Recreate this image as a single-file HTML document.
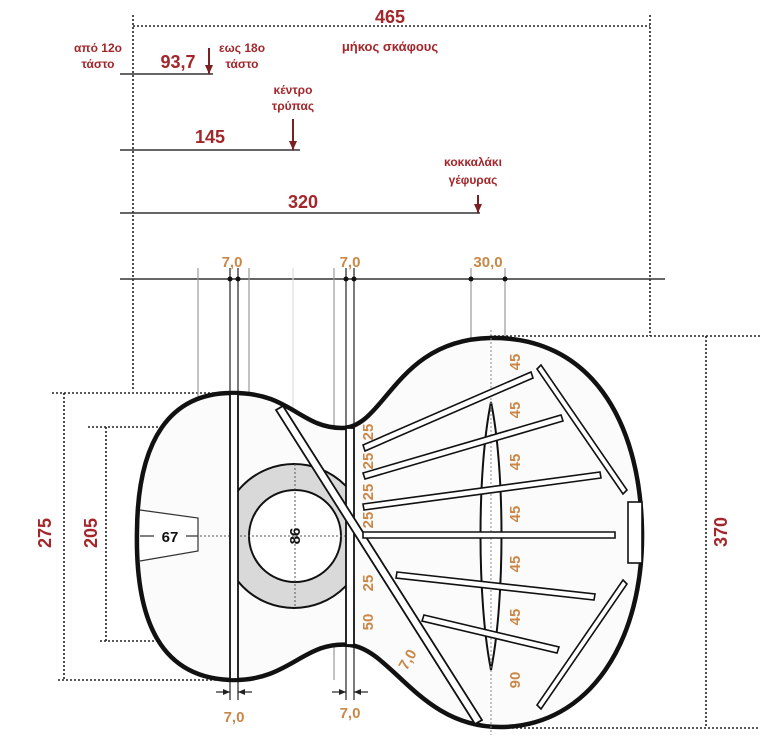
<!DOCTYPE html>
<html><head><meta charset="utf-8"><style>
html,body{margin:0;padding:0;background:#fff;width:760px;height:748px;overflow:hidden}
svg{display:block}
.r{fill:#a3262a;font-family:"Liberation Sans","DejaVu Sans",sans-serif;font-weight:bold}
.o{fill:#c98848;font-family:"Liberation Sans","DejaVu Sans",sans-serif;font-weight:bold;font-size:15px}
</style></head><body>
<svg width="760" height="748" viewBox="0 0 760 748" xmlns="http://www.w3.org/2000/svg">
<defs>
<marker id="ah" markerWidth="9" markerHeight="8" refX="9" refY="4" orient="auto" markerUnits="userSpaceOnUse"><path d="M0,0 L9,4 L0,8 Z" fill="#7a1f22"/></marker>
<marker id="sa" markerWidth="7" markerHeight="6" refX="7" refY="3" orient="auto" markerUnits="userSpaceOnUse"><path d="M0,0 L7,3 L0,6 Z" fill="#222"/></marker>
</defs>
<g stroke="#222" stroke-width="1.6" stroke-dasharray="2,2" fill="none">
<line x1="133" y1="15" x2="133" y2="390"/>
<line x1="133" y1="26" x2="650" y2="26"/>
<line x1="650" y1="15" x2="650" y2="336"/>
<line x1="490" y1="336" x2="760" y2="336"/>
<line x1="500" y1="728" x2="760" y2="728"/>
<line x1="706" y1="336" x2="706" y2="728"/>
<line x1="64" y1="393" x2="64" y2="680"/>
<line x1="52" y1="393" x2="232" y2="393"/>
<line x1="58" y1="680" x2="232" y2="680"/>
<line x1="106" y1="427" x2="106" y2="641"/>
<line x1="88" y1="427" x2="345" y2="427"/>
<line x1="100" y1="641" x2="345" y2="641"/>
</g>
<g stroke="#333" stroke-width="1.5">
<line x1="120" y1="74" x2="213" y2="74"/>
<line x1="120" y1="150" x2="300" y2="150"/>
<line x1="120" y1="213" x2="480" y2="213"/>
<line x1="120" y1="279" x2="665" y2="279"/>
</g>
<g stroke="#7a1f22" stroke-width="2" marker-end="url(#ah)">
<line x1="209" y1="48" x2="209" y2="74"/>
<line x1="293" y1="119" x2="293" y2="150"/>
<line x1="478" y1="195" x2="478" y2="213"/>
</g>
<g stroke="#999" stroke-width="1.2">
<line x1="198" y1="268" x2="198" y2="540"/>
<line x1="249" y1="268" x2="249" y2="680"/>
<line x1="293" y1="268" x2="293" y2="620" stroke="#ddd"/>
<line x1="334" y1="268" x2="334" y2="680"/>
<line x1="471" y1="268" x2="471" y2="400"/>
<line x1="505" y1="268" x2="505" y2="400"/>
</g>
<g stroke="#333" stroke-width="1.3">
<line x1="230" y1="268" x2="230" y2="700"/><line x1="238" y1="268" x2="238" y2="700"/>
<line x1="346" y1="268" x2="346" y2="700"/><line x1="354" y1="268" x2="354" y2="700"/>
</g>
<g stroke="#222" stroke-width="1.2" marker-end="url(#sa)">
<line x1="216" y1="692" x2="230" y2="692"/><line x1="252" y1="692" x2="238" y2="692"/>
<line x1="332" y1="692" x2="346" y2="692"/><line x1="368" y1="692" x2="354" y2="692"/>
</g>
<g fill="#111"><circle cx="230" cy="279" r="2.5"/><circle cx="238" cy="279" r="2.5"/><circle cx="346" cy="279" r="2.5"/><circle cx="354" cy="279" r="2.5"/><circle cx="471" cy="279" r="2.5"/><circle cx="505" cy="279" r="2.5"/></g>
<!-- body -->
<path d="M232,393 C290,392 300,428 342,428 C385,428 395,340 490,338 C590,336 640,420 642,530 C644,640 590,727 500,727 C420,727 392,650 350,645 C305,640 290,680 235,680 C160,680 135,620 137,530 C138,440 170,393 232,393 Z" fill="#fbfbfb" stroke="#111" stroke-width="4.5"/>
<clipPath id="hc"><rect x="238" y="440" width="108" height="200"/></clipPath>
<circle cx="294" cy="536" r="72" fill="#d9d9d9" stroke="#111" stroke-width="2" clip-path="url(#hc)"/>
<circle cx="295" cy="536" r="46" fill="#fff" stroke="#111" stroke-width="2"/>
<g stroke="#555" stroke-width="1" stroke-dasharray="2,2"><line x1="200" y1="536" x2="346" y2="536"/><line x1="295" y1="464" x2="295" y2="608"/></g>
<text transform="translate(300,536) rotate(-90)" text-anchor="middle" font-family="Liberation Sans,sans-serif" font-weight="bold" font-size="15" fill="#111">86</text>
<!-- patch -->
<path d="M140,510 L198,518 L198,551 L140,561" fill="#fff" stroke="#333" stroke-width="1.2"/>
<line x1="140" y1="536" x2="198" y2="536" stroke="#333" stroke-width="1.2"/>
<rect x="154" y="527" width="32" height="18" fill="#fff"/>
<text x="170" y="542" text-anchor="middle" font-family="Liberation Sans,sans-serif" font-weight="bold" font-size="15" fill="#111">67</text>
<!-- vertical braces -->
<rect x="230" y="394" width="8" height="285" fill="#fff" stroke="#111" stroke-width="1.8"/>
<rect x="346" y="428" width="8" height="217" fill="#fff" stroke="#111" stroke-width="1.8"/>
<!-- diagonal -->
<polygon points="276,410 283,406 482,720 475,724" fill="#fff" stroke="#111" stroke-width="1.8"/>
<!-- tone spindle -->
<path d="M491,402 C505,470 505,600 491,670 C477,600 477,470 491,402 Z" fill="#fff" stroke="#111" stroke-width="2"/>
<line x1="491" y1="330" x2="491" y2="735" stroke="#888" stroke-width="1" stroke-dasharray="2,2"/>
<!-- fan braces -->
<g fill="#fff" stroke="#111" stroke-width="1.6">
<polygon points="363,445 531,372 533,378 365,451"/>
<polygon points="363,473 561,415 563,421 365,479"/>
<polygon points="363,504 600,472 601,478 364,510"/>
<polygon points="363,532 615,532 615,538 363,538"/>
<polygon points="397,572 595,594 594,600 396,578"/>
<polygon points="424,615 559,647 557,653 422,621"/>
<polygon points="537,369 541,365 627,490 623,494"/>
<polygon points="623,580 627,584 541,709 537,705"/>
</g>
<rect x="628" y="502" width="14" height="61" fill="#fff" stroke="#111" stroke-width="1.6"/>
<!-- labels -->
<text x="390" y="23" text-anchor="middle" class="r" font-size="18">465</text>
<text x="390" y="51" text-anchor="middle" class="r" font-size="13">μήκος σκάφους</text>
<text x="98" y="52" text-anchor="middle" class="r" font-size="12">από 12ο</text>
<text x="98" y="68" text-anchor="middle" class="r" font-size="12">τάστο</text>
<text x="178" y="68" text-anchor="middle" class="r" font-size="18">93,7</text>
<text x="242" y="52" text-anchor="middle" class="r" font-size="12">εως 18ο</text>
<text x="242" y="68" text-anchor="middle" class="r" font-size="12">τάστο</text>
<text x="293" y="94" text-anchor="middle" class="r" font-size="12">κέντρο</text>
<text x="293" y="110" text-anchor="middle" class="r" font-size="12">τρύπας</text>
<text x="210" y="143" text-anchor="middle" class="r" font-size="18">145</text>
<text x="473" y="166" text-anchor="middle" class="r" font-size="12">κοκκαλάκι</text>
<text x="473" y="184" text-anchor="middle" class="r" font-size="12">γέφυρας</text>
<text x="303" y="208" text-anchor="middle" class="r" font-size="18">320</text>
<text x="232" y="267" text-anchor="middle" class="o">7,0</text>
<text x="350" y="267" text-anchor="middle" class="o">7,0</text>
<text x="488" y="267" text-anchor="middle" class="o">30,0</text>
<text x="234" y="722" text-anchor="middle" class="o">7,0</text>
<text x="350" y="718" text-anchor="middle" class="o">7,0</text>
<g class="o">
<text transform="translate(373,432) rotate(-90)" text-anchor="middle">25</text>
<text transform="translate(373,461) rotate(-90)" text-anchor="middle">25</text>
<text transform="translate(373,492) rotate(-90)" text-anchor="middle">25</text>
<text transform="translate(373,520) rotate(-90)" text-anchor="middle">25</text>
<text transform="translate(373,583) rotate(-90)" text-anchor="middle">25</text>
<text transform="translate(373,622) rotate(-90)" text-anchor="middle">50</text>
<text transform="translate(520,362) rotate(-90)" text-anchor="middle">45</text>
<text transform="translate(520,410) rotate(-90)" text-anchor="middle">45</text>
<text transform="translate(520,462) rotate(-90)" text-anchor="middle">45</text>
<text transform="translate(520,514) rotate(-90)" text-anchor="middle">45</text>
<text transform="translate(520,564) rotate(-90)" text-anchor="middle">45</text>
<text transform="translate(520,617) rotate(-90)" text-anchor="middle">45</text>
<text transform="translate(520,680) rotate(-90)" text-anchor="middle">90</text>
<text transform="translate(412,662) rotate(-60)" text-anchor="middle">7,0</text>
</g>
<text transform="translate(51,533) rotate(-90)" text-anchor="middle" class="r" font-size="18">275</text>
<text transform="translate(97,533) rotate(-90)" text-anchor="middle" class="r" font-size="18">205</text>
<text transform="translate(727,532) rotate(-90)" text-anchor="middle" class="r" font-size="18">370</text>
</svg>
</body></html>
